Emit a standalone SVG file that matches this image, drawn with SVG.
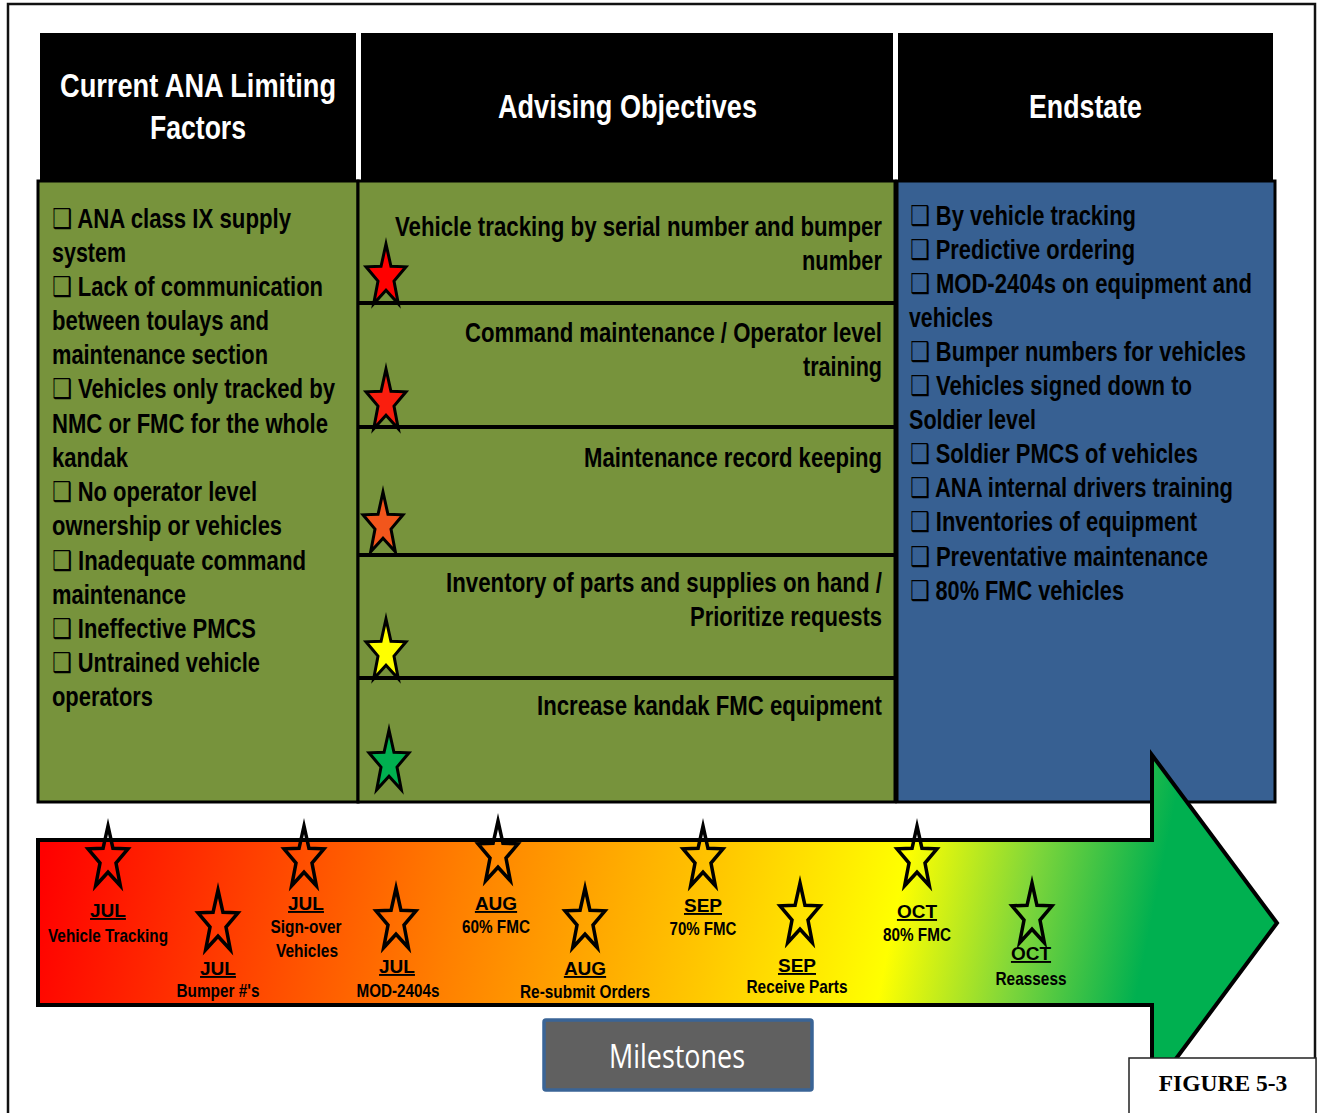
<svg xmlns="http://www.w3.org/2000/svg" xmlns:xlink="http://www.w3.org/1999/xlink" width="1319" height="1113" viewBox="0 0 1319 1113">
  <style>
    .hdr { fill: #000; }
    .hdr-t { fill: #fff; font-family: "Liberation Sans Narrow", "Liberation Sans", Arial, sans-serif; font-weight: bold; font-size: 33px; }
    .body { fill: #000; font-family: "Liberation Sans Narrow", "Liberation Sans", Arial, "DejaVu Sans", sans-serif; font-weight: bold; font-size: 27px; }
    .ms { fill: #000; font-family: "Liberation Sans Narrow", "Liberation Sans", Arial, sans-serif; font-weight: bold; font-size: 19px; text-anchor: middle; }
    .mon { text-decoration: underline; }
    .panel-g { fill: #77933c; stroke: #000; stroke-width: 3; }
    .panel-b { fill: #376092; stroke: #000; stroke-width: 3; }
    .rule { stroke: #000; stroke-width: 4; }
    .star-f { stroke: #000; stroke-width: 3; stroke-miterlimit: 10; stroke-linejoin: miter; }
    .star-o { fill: none; stroke: #000; stroke-width: 3.5; stroke-miterlimit: 10; stroke-linejoin: miter; }
  </style>
  <defs>
    <path id="star" d="M0,-33 L4.94,-10.68 L19.97,-10.2 L7.99,4.08 L12.34,26.7 L0,13.2 L-12.34,26.7 L-7.99,4.08 L-19.97,-10.2 L-4.94,-10.68 Z"/>
    <linearGradient id="timeGrad" gradientUnits="userSpaceOnUse" x1="38" y1="880" x2="1277" y2="1130">
      <stop offset="0" stop-color="#ff0000"/>
      <stop offset="0.33" stop-color="#ff8000"/>
      <stop offset="0.53" stop-color="#ffc800"/>
      <stop offset="0.67" stop-color="#ffff00"/>
      <stop offset="0.77" stop-color="#7fd63a"/>
      <stop offset="0.87" stop-color="#00b050"/>
      <stop offset="1" stop-color="#00b050"/>
    </linearGradient>
  </defs>

  <rect width="1319" height="1113" fill="#fff"/>
  <!-- page frame -->
  <rect x="8" y="4" width="1307" height="1130" fill="none" stroke="#111" stroke-width="2.5"/>

  <!-- column headers -->
  <g id="header-limiting">
    <rect class="hdr" x="40" y="33" width="316" height="150"/>
    <text class="hdr-t" x="60" y="97" textLength="276" lengthAdjust="spacingAndGlyphs">Current ANA Limiting</text>
    <text class="hdr-t" x="150" y="139" textLength="96" lengthAdjust="spacingAndGlyphs">Factors</text>
  </g>
  <g id="header-objectives">
    <rect class="hdr" x="361" y="33" width="532" height="150"/>
    <text class="hdr-t" x="498" y="118" textLength="259" lengthAdjust="spacingAndGlyphs">Advising Objectives</text>
  </g>
  <g id="header-endstate">
    <rect class="hdr" x="898" y="33" width="375" height="150"/>
    <text class="hdr-t" x="1029" y="118" textLength="113" lengthAdjust="spacingAndGlyphs">Endstate</text>
  </g>

  <!-- limiting factors panel -->
  <g id="panel-limiting">
    <rect class="panel-g" x="38" y="181" width="320" height="621"/>
    <text class="body" x="52" y="228" textLength="239" lengthAdjust="spacingAndGlyphs">❑ ANA class IX supply</text>
    <text class="body" x="52" y="262" textLength="74" lengthAdjust="spacingAndGlyphs">system</text>
    <text class="body" x="52" y="296" textLength="271" lengthAdjust="spacingAndGlyphs">❑ Lack of communication</text>
    <text class="body" x="52" y="330" textLength="217" lengthAdjust="spacingAndGlyphs">between toulays and</text>
    <text class="body" x="52" y="364" textLength="216" lengthAdjust="spacingAndGlyphs">maintenance section</text>
    <text class="body" x="52" y="398" textLength="283" lengthAdjust="spacingAndGlyphs">❑ Vehicles only tracked by</text>
    <text class="body" x="52" y="433" textLength="276" lengthAdjust="spacingAndGlyphs">NMC or FMC for the whole</text>
    <text class="body" x="52" y="467" textLength="76" lengthAdjust="spacingAndGlyphs">kandak</text>
    <text class="body" x="52" y="501" textLength="205" lengthAdjust="spacingAndGlyphs">❑ No operator level</text>
    <text class="body" x="52" y="535" textLength="230" lengthAdjust="spacingAndGlyphs">ownership or vehicles</text>
    <text class="body" x="52" y="570" textLength="254" lengthAdjust="spacingAndGlyphs">❑ Inadequate command</text>
    <text class="body" x="52" y="604" textLength="134" lengthAdjust="spacingAndGlyphs">maintenance</text>
    <text class="body" x="52" y="638" textLength="204" lengthAdjust="spacingAndGlyphs">❑ Ineffective PMCS</text>
    <text class="body" x="52" y="672" textLength="208" lengthAdjust="spacingAndGlyphs">❑ Untrained vehicle</text>
    <text class="body" x="52" y="706" textLength="101" lengthAdjust="spacingAndGlyphs">operators</text>
  </g>

  <!-- advising objectives panel -->
  <g id="panel-objectives">
    <rect class="panel-g" x="358" y="181" width="537" height="621"/>
    <line class="rule" x1="358" y1="303" x2="895" y2="303"/>
    <line class="rule" x1="358" y1="427" x2="895" y2="427"/>
    <line class="rule" x1="358" y1="555" x2="895" y2="555"/>
    <line class="rule" x1="358" y1="678" x2="895" y2="678"/>
  </g>
  <g id="objective-1">
    <text class="body" x="395" y="236" textLength="487" lengthAdjust="spacingAndGlyphs">Vehicle tracking by serial number and bumper</text>
    <text class="body" x="802" y="270" textLength="80" lengthAdjust="spacingAndGlyphs">number</text>
    <use href="#star" x="386" y="277" class="star-f" fill="#ff0000"/>
  </g>
  <g id="objective-2">
    <text class="body" x="465" y="342" textLength="417" lengthAdjust="spacingAndGlyphs">Command maintenance / Operator level</text>
    <text class="body" x="803" y="376" textLength="79" lengthAdjust="spacingAndGlyphs">training</text>
    <use href="#star" x="386" y="402" class="star-f" fill="#fa1e0e"/>
  </g>
  <g id="objective-3">
    <text class="body" x="584" y="467" textLength="298" lengthAdjust="spacingAndGlyphs">Maintenance record keeping</text>
    <use href="#star" x="383" y="525" class="star-f" fill="#f2561c"/>
  </g>
  <g id="objective-4">
    <text class="body" x="446" y="592" textLength="436" lengthAdjust="spacingAndGlyphs">Inventory of parts and supplies on hand /</text>
    <text class="body" x="690" y="626" textLength="192" lengthAdjust="spacingAndGlyphs">Prioritize requests</text>
    <use href="#star" x="386" y="652" class="star-f" fill="#ffff00"/>
  </g>
  <g id="objective-5">
    <text class="body" x="537" y="715" textLength="345" lengthAdjust="spacingAndGlyphs">Increase kandak FMC equipment</text>
    <use href="#star" x="389" y="763" class="star-f" fill="#00b050"/>
  </g>

  <!-- endstate panel -->
  <g id="panel-endstate">
    <rect class="panel-b" x="897" y="181" width="378" height="621"/>
    <text class="body" x="910" y="225" textLength="226" lengthAdjust="spacingAndGlyphs">❑ By vehicle tracking</text>
    <text class="body" x="910" y="259" textLength="225" lengthAdjust="spacingAndGlyphs">❑ Predictive ordering</text>
    <text class="body" x="910" y="293" textLength="342" lengthAdjust="spacingAndGlyphs">❑ MOD-2404s on equipment and</text>
    <text class="body" x="909" y="327" textLength="84" lengthAdjust="spacingAndGlyphs">vehicles</text>
    <text class="body" x="910" y="361" textLength="336" lengthAdjust="spacingAndGlyphs">❑ Bumper numbers for vehicles</text>
    <text class="body" x="910" y="395" textLength="282" lengthAdjust="spacingAndGlyphs">❑ Vehicles signed down to</text>
    <text class="body" x="909" y="429" textLength="127" lengthAdjust="spacingAndGlyphs">Soldier level</text>
    <text class="body" x="910" y="463" textLength="288" lengthAdjust="spacingAndGlyphs">❑ Soldier PMCS of vehicles</text>
    <text class="body" x="910" y="497" textLength="323" lengthAdjust="spacingAndGlyphs">❑ ANA internal drivers training</text>
    <text class="body" x="910" y="531" textLength="287" lengthAdjust="spacingAndGlyphs">❑ Inventories of equipment</text>
    <text class="body" x="910" y="566" textLength="298" lengthAdjust="spacingAndGlyphs">❑ Preventative maintenance</text>
    <text class="body" x="910" y="600" textLength="214" lengthAdjust="spacingAndGlyphs">❑ 80% FMC vehicles</text>
  </g>

  <!-- timeline arrow -->
  <g id="timeline-arrow">
    <polygon points="38,840 1152,840 1152,755 1277,923 1152,1091 1152,1005 38,1005" fill="url(#timeGrad)" stroke="#000" stroke-width="4" stroke-linejoin="miter"/>
  </g>

  <g id="connectors"/>

  <!-- milestones along the timeline -->
  <g id="ms-vehicle-tracking">
    <use href="#star" x="108" y="859" class="star-o"/>
    <text class="ms mon" x="108" y="917">JUL</text>
    <text class="ms" x="108" y="942" textLength="120" lengthAdjust="spacingAndGlyphs">Vehicle Tracking</text>
  </g>
  <g id="ms-bumper">
    <use href="#star" x="218" y="923" class="star-o"/>
    <text class="ms mon" x="218" y="975">JUL</text>
    <text class="ms" x="218" y="997" textLength="83" lengthAdjust="spacingAndGlyphs">Bumper #'s</text>
  </g>
  <g id="ms-sign-over">
    <use href="#star" x="304" y="859" class="star-o"/>
    <text class="ms mon" x="306" y="910">JUL</text>
    <text class="ms" x="306" y="933" textLength="71" lengthAdjust="spacingAndGlyphs">Sign-over</text>
    <text class="ms" x="307" y="957" textLength="62" lengthAdjust="spacingAndGlyphs">Vehicles</text>
  </g>
  <g id="ms-mod2404">
    <use href="#star" x="396" y="921" class="star-o"/>
    <text class="ms mon" x="397" y="973">JUL</text>
    <text class="ms" x="398" y="997" textLength="83" lengthAdjust="spacingAndGlyphs">MOD-2404s</text>
  </g>
  <g id="ms-aug-60">
    <use href="#star" x="498" y="854" class="star-o"/>
    <text class="ms mon" x="496" y="910">AUG</text>
    <text class="ms" x="496" y="933" textLength="68" lengthAdjust="spacingAndGlyphs">60% FMC</text>
  </g>
  <g id="ms-resubmit">
    <use href="#star" x="585" y="921" class="star-o"/>
    <text class="ms mon" x="585" y="975">AUG</text>
    <text class="ms" x="585" y="998" textLength="130" lengthAdjust="spacingAndGlyphs">Re-submit Orders</text>
  </g>
  <g id="ms-sep-70">
    <use href="#star" x="703" y="859" class="star-o"/>
    <text class="ms mon" x="703" y="912">SEP</text>
    <text class="ms" x="703" y="935" textLength="67" lengthAdjust="spacingAndGlyphs">70% FMC</text>
  </g>
  <g id="ms-receive">
    <use href="#star" x="800" y="916" class="star-o"/>
    <text class="ms mon" x="797" y="972">SEP</text>
    <text class="ms" x="797" y="993" textLength="101" lengthAdjust="spacingAndGlyphs">Receive Parts</text>
  </g>
  <g id="ms-oct-80">
    <use href="#star" x="917" y="859" class="star-o"/>
    <text class="ms mon" x="917" y="918">OCT</text>
    <text class="ms" x="917" y="941" textLength="68" lengthAdjust="spacingAndGlyphs">80% FMC</text>
  </g>
  <g id="ms-reassess">
    <use href="#star" x="1032" y="916" class="star-o"/>
    <text class="ms mon" x="1031" y="960">OCT</text>
    <text class="ms" x="1031" y="985" textLength="71" lengthAdjust="spacingAndGlyphs">Reassess</text>
  </g>

  <!-- caption box -->
  <g id="milestones-label">
    <rect x="544" y="1020" width="268" height="70" rx="2" fill="#606060" stroke="#3a6496" stroke-width="3.5"/>
    <text x="677" y="1068" fill="#fff" font-family="'Open Sans', 'Liberation Sans', sans-serif" font-size="33" text-anchor="middle" textLength="136" lengthAdjust="spacingAndGlyphs">Milestones</text>
  </g>

  <g id="figure-label">
    <rect x="1129" y="1058" width="187" height="70" fill="#fff" stroke="#222" stroke-width="1.5"/>
    <text x="1223" y="1091" font-family="'Liberation Serif', 'Times New Roman', serif" font-weight="bold" font-size="23.5" text-anchor="middle" fill="#000">FIGURE 5-3</text>
  </g>
</svg>
